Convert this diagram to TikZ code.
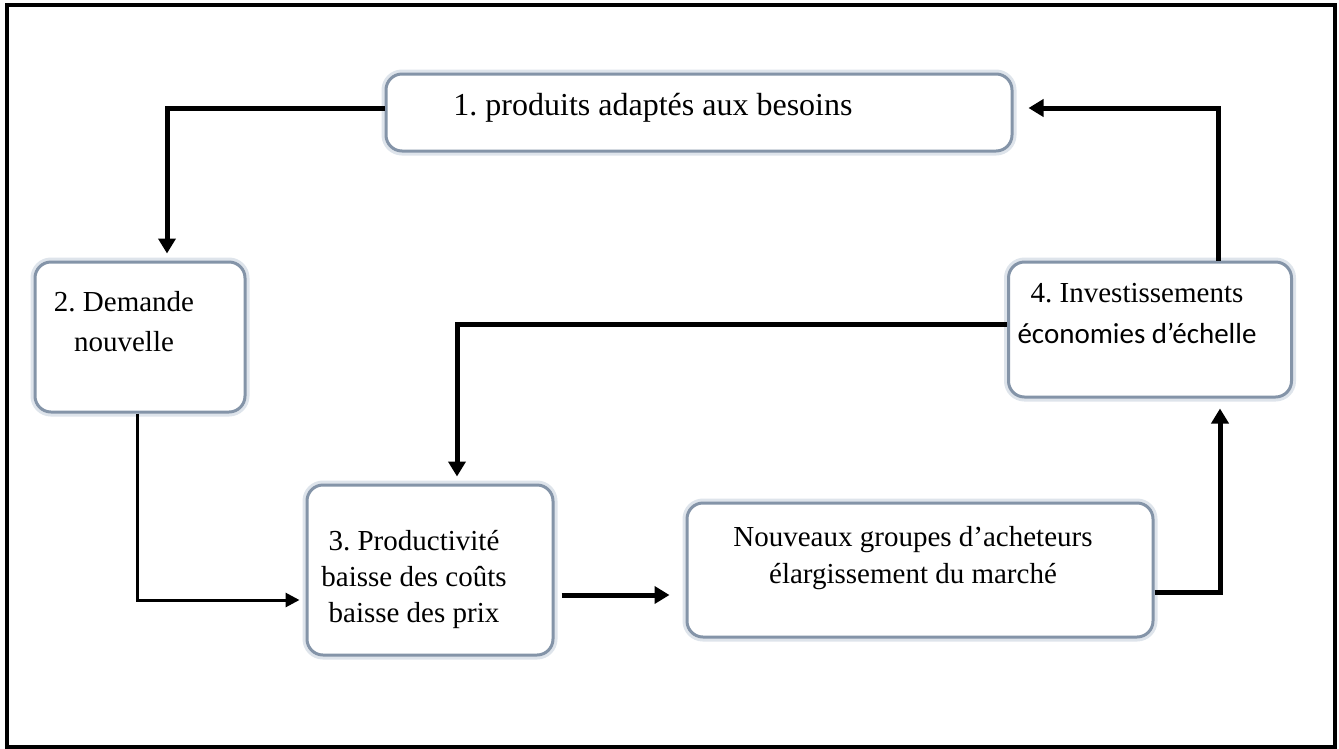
\documentclass[tikz,border=0pt]{standalone}
\usepackage{fontspec}
\setmainfont{Liberation Serif}
\newfontfamily\carlitofont{Carlito}
\usetikzlibrary{arrows.meta}
\frenchspacing
\definecolor{boxedge}{RGB}{132,148,168}
\definecolor{boxhalo}{RGB}{222,228,235}
\tikzset{
  box/.style={rectangle, rounded corners=16pt, fill=white, draw=boxedge,
    line width=3pt, inner sep=0pt,
    preaction={draw=boxhalo, line width=9pt}},
  label/.style={align=center, inner sep=0pt, font=\fontsize{29}{37}\selectfont},
  flow/.style={line width=5pt, -{Triangle[width=17pt,length=15pt]}},
  thinflow/.style={line width=3pt, -{Triangle[width=14pt,length=14pt]}}
}
\begin{document}
\begin{tikzpicture}[x=1pt, y=-1pt]
\useasboundingbox (0,0) rectangle (1339,748);
% outer frame
\draw[line width=4pt] (7,5) rectangle (1335,747);

% boxes
\node[box, minimum width=626pt, minimum height=77pt] (b1) at (699,112.5) {};
\node[box, minimum width=210pt, minimum height=150pt] (b2) at (140,337) {};
\node[box, minimum width=283pt, minimum height=135pt] (b4) at (1150,329.5) {};
\node[box, minimum width=246pt, minimum height=170pt] (b3) at (430,570) {};
\node[box, minimum width=466pt, minimum height=134pt] (b5) at (920,570) {};

% texts
\node[label, font=\fontsize{32}{37}\selectfont] (t1) at (653,108) {1. produits adaptés aux besoins};
\node[label, font=\fontsize{29}{40}\selectfont] (t2) at (124,322) {2. Demande\\nouvelle};
\node[label] (t4a) at (1137,293) {4. Investissements};
\node[label, font=\carlitofont\fontsize{29}{36}\selectfont] (t4b) at (1137,333) {économies d’échelle};
\node[label, font=\fontsize{29}{36}\selectfont] (t3) at (414,579) {3. Productivité\\baisse des coûts\\baisse des prix};
\node[label] (t5) at (913,558) {Nouveaux groupes d’acheteurs\\élargissement du marché};

% bend points of the connectors
\coordinate (k1) at (167,108);
\coordinate (k2) at (137,600);
\coordinate (k3) at (457,324);
\coordinate (k4) at (600,595);
\coordinate (k5) at (1220,592);
\coordinate (k6) at (1218,108);

% connectors
\draw[flow, shorten >=7pt] (b1.west |- k1) -- (k1) -- (k1 |- b2.north);
\draw[thinflow, shorten >=6pt] (k2 |- b2.south) -- (k2) -- (k2 -| b3.west);
\draw[flow, shorten >=7pt] (b4.west |- k3) -- (k3) -- (k3 |- b3.north);
\draw[flow, shorten <=7pt, shorten >=16pt] (b3.east |- k4) -- (b5.west |- k4);
\draw[flow, shorten >=10pt] (b5.east |- k5) -- (k5) -- (k5 |- b4.south);
\draw[flow, shorten >=15pt] (k6 |- b4.north) -- (k6) -- (k6 -| b1.east);
\end{tikzpicture}
\end{document}
